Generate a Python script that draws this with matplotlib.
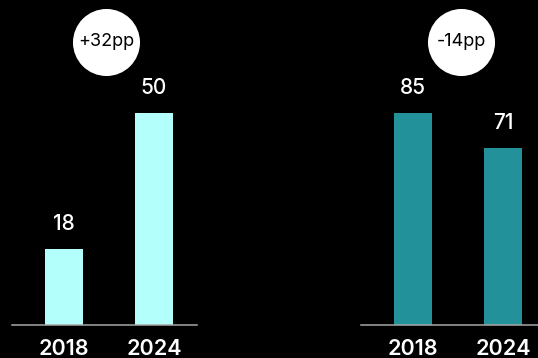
import matplotlib.pyplot as plt

years = ['2018', '2024']
left_values = [18, 50]
right_values = [85, 71]
left_color = '#B3FFFC'
right_color = '#23919A'

plt.rcParams['font.family'] = ['Inter', 'DejaVu Sans']

W, H = 538, 358
fig = plt.figure(figsize=(W / 100, H / 100), dpi=100)
fig.patch.set_facecolor('black')


def draw_panel(x0, values, color, bubble_x):
    ax = fig.add_axes([x0 / W, 33 / H, 185 / W, 325 / H])
    ax.set_facecolor('black')
    pos = list(range(len(values)))
    ax.bar(pos, values, width=0.42, color=color, zorder=2)
    ax.set_xlim(-0.578, 1.478)
    ax.set_ylim(0, max(values) * 1.53)

    for x, v in zip(pos, values):
        ax.annotate(str(v), (x, v), xytext=(0, 18), textcoords='offset points',
                    ha='center', va='center', color='white', fontsize=15,
                    fontweight='medium')

    # change bubble above the pair of bars
    delta = values[-1] - values[0]
    tr = ax.get_xaxis_transform()
    ax.scatter([bubble_x], [0.871], s=2330, color='white', transform=tr,
               clip_on=False, zorder=3, linewidths=0)
    ax.text(bubble_x, 0.871, f'{delta:+d}pp', transform=tr, ha='center',
            va='center', color='black', fontsize=13, zorder=4)

    ax.set_xticks(pos)
    ax.set_xticklabels(years, color='white', fontsize=15.5, fontweight='semibold')
    ax.tick_params(axis='x', length=0, pad=10)
    ax.set_yticks([])
    for side in ['left', 'right', 'top']:
        ax.spines[side].set_visible(False)
    ax.spines['bottom'].set_color('#A8A8A8')
    ax.spines['bottom'].set_linewidth(1.1)
    return ax


draw_panel(12, left_values, left_color, 0.467)
draw_panel(361, right_values, right_color, 0.533)

fig.savefig('out.png', dpi=100, facecolor='black')
